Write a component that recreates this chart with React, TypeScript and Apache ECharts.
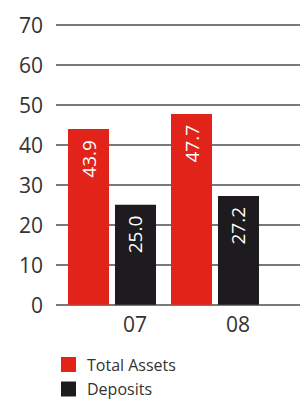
import React, { useEffect, useRef } from "react";
import * as echarts from "echarts";

const categories = ["07", "08"];
const totalAssets = [43.9, 47.7];
const deposits = [25.0, 27.2];
const yTicks = { min: 0, max: 70, interval: 10 };
const seriesNames = ["Total Assets", "Deposits"];

const FONT = "'Open Sans', 'Noto Sans', sans-serif";

export default function App() {
  const ref = useRef<HTMLDivElement>(null);
  useEffect(() => {
    if (!ref.current) return;
    const chart = echarts.init(ref.current, null, { renderer: "svg" });
    const top = 24.7;
    const bottom = 94.3;
    const barLabel = {
      show: true,
      position: "insideTop",
      rotate: 90,
      align: "right",
      verticalAlign: "middle",
      distance: 11,
      color: "#ffffff",
      fontSize: 19,
      fontFamily: FONT,
      formatter: (p: any) => Number(p.value).toFixed(1),
    };
    const legendBase = {
      orient: "horizontal",
      left: 61,
      padding: 0,
      itemWidth: 15,
      itemHeight: 15,
      icon: "rect",
      selectedMode: false,
      textStyle: {
        fontSize: 16,
        color: "#333333",
        fontFamily: FONT,
        padding: [0, 0, 0, 6],
      },
    };
    chart.setOption({
      animation: false,
      textStyle: { fontFamily: FONT },
      grid: [
        { left: 56, right: 0, top, bottom },
        { left: 60.5, right: 33.5, top, bottom },
      ],
      legend: [
        { ...legendBase, top: 356.5, data: [seriesNames[0]] },
        { ...legendBase, top: 381, data: [seriesNames[1]] },
      ],
      xAxis: [
        { type: "category", gridIndex: 0, data: categories, show: false },
        {
          type: "category",
          gridIndex: 1,
          data: categories,
          axisLine: { show: false },
          axisTick: { show: false },
          axisLabel: {
            fontSize: 21,
            color: "#333333",
            margin: 9,
            fontFamily: FONT,
            padding: [0, 0, 0, 46],
          },
        },
      ],
      yAxis: [
        {
          type: "value",
          gridIndex: 0,
          min: yTicks.min,
          max: yTicks.max,
          interval: yTicks.interval,
          axisLine: { show: false },
          axisTick: { show: false },
          axisLabel: {
            fontSize: 21,
            color: "#333333",
            margin: 13,
            fontFamily: FONT,
          },
          splitLine: { show: true, lineStyle: { color: "#4d4d4d", width: 1.6 } },
        },
        {
          type: "value",
          gridIndex: 1,
          min: yTicks.min,
          max: yTicks.max,
          interval: yTicks.interval,
          show: false,
          splitLine: { show: false },
        },
      ],
      series: [
        {
          name: seriesNames[0],
          type: "bar",
          xAxisIndex: 1,
          yAxisIndex: 1,
          data: totalAssets,
          barWidth: 41,
          barGap: "14.6%",
          itemStyle: { color: "#e2231a" },
          label: barLabel,
        },
        {
          name: seriesNames[1],
          type: "bar",
          xAxisIndex: 1,
          yAxisIndex: 1,
          data: deposits,
          barWidth: 41,
          barGap: "14.6%",
          itemStyle: { color: "#1d1b1e" },
          label: barLabel,
        },
      ],
    });
    return () => chart.dispose();
  }, []);
  return (
    <div
      ref={ref}
      style={{ position: "absolute", left: 0, top: 0, width: 300, height: 399 }}
    />
  );
}
